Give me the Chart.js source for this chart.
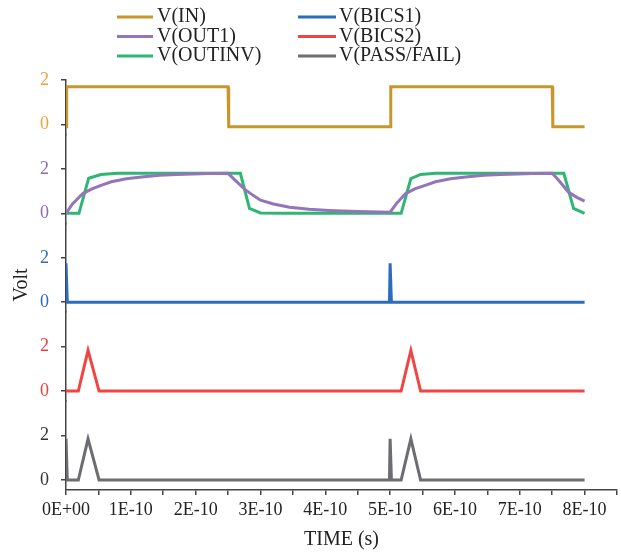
<!DOCTYPE html>
<html>
<head>
<meta charset="utf-8">
<script src="https://cdn.jsdelivr.net/npm/chart.js@4"></script>
<style>
  html, body { margin: 0; padding: 0; background: #fff; }
  #wrap { width: 621px; height: 552px; }
</style>
</head>
<body>
<div id="wrap"><canvas id="chart" width="621" height="552"></canvas></div>
<script>
// time values are in units of 1E-10 s
const inTime = [0, 0.01, 2.5, 2.51, 5.0, 5.01, 7.5, 7.51, 8.0];
const inVolt = [-0.1, 1.7, 1.7, -0.1, -0.1, 1.7, 1.7, -0.1, -0.1];

const out1Time = [0, 0.1, 0.26, 0.4, 0.54, 0.7, 0.93, 1.2, 1.45, 1.7, 1.96, 2.2, 2.5,
  2.6, 2.75, 2.88, 3.0, 3.2, 3.45, 3.75, 4.06, 4.5, 5.0,
  5.1, 5.24, 5.38, 5.54, 5.7, 5.93, 6.2, 6.45, 6.7, 6.96, 7.2, 7.5,
  7.6, 7.75, 7.88, 8.0];
const out1Volt = [0, 0.42, 0.89, 1.1, 1.26, 1.42, 1.56, 1.65, 1.71, 1.75, 1.77, 1.79, 1.8,
  1.52, 1.1, 0.82, 0.59, 0.42, 0.27, 0.18, 0.13, 0.08, 0.05,
  0.45, 0.89, 1.1, 1.26, 1.42, 1.56, 1.65, 1.71, 1.75, 1.77, 1.79, 1.8,
  1.49, 0.96, 0.72, 0.55];

const outInvTime = [0, 0.2, 0.35, 0.54, 0.8, 2.69, 2.83, 3.0, 3.3, 5.17, 5.32, 5.47, 5.7, 7.68, 7.83, 8.0];
const outInvVolt = [0, 0, 1.58, 1.75, 1.8, 1.8, 0.22, 0.02, 0, 0, 1.56, 1.75, 1.8, 1.8, 0.22, 0];

const bics1Time = [0, 0.02, 4.99, 5.0, 5.02, 8.0];
const bics1Volt = [1.75, 0, 0, 1.75, 0, 0];

const bics2Time = [0, 0.19, 0.34, 0.51, 5.17, 5.32, 5.47, 8.0];
const bics2Volt = [0, 0, 1.83, 0, 0, 1.83, 0, 0];

const passTime = [0, 0.02, 0.19, 0.34, 0.51, 4.99, 5.0, 5.02, 5.17, 5.32, 5.47, 8.0];
const passVolt = [1.85, 0, 0, 1.85, 0, 0, 1.85, 0, 0, 1.85, 0, 0];

// y tick marks per panel, and which of them carry a label
const panelTicks = [0, 1, 2, 3];
const topPanelTicks = [0, 1, 2];
const labeledVolts = [0, 2];

const FONT = "'Liberation Serif', 'DejaVu Serif', serif";

const pts = (ts, vs) => ts.map((t, i) => ({ x: t, y: vs[i] }));

const series = [
  { label: "V(IN)", data: pts(inTime, inVolt), color: "#c9962c", axis: "yIn" },
  { label: "V(OUT1)", data: pts(out1Time, out1Volt), color: "#9475b9", axis: "yOut" },
  { label: "V(OUTINV)", data: pts(outInvTime, outInvVolt), color: "#2fb574", axis: "yOut" },
  { label: "V(BICS1)", data: pts(bics1Time, bics1Volt), color: "#2b6cbe", axis: "yB1" },
  { label: "V(BICS2)", data: pts(bics2Time, bics2Volt), color: "#f04545", axis: "yB2" },
  { label: "V(PASS/FAIL)", data: pts(passTime, passVolt), color: "#6c6c71", axis: "yPF" }
];

const legendPlugin = {
  id: "twoColLegend",
  afterDraw(chart) {
    const { ctx } = chart;
    const cols = [{ x0: 117, x1: 153, tx: 157 }, { x0: 298, x1: 336, tx: 339 }];
    const rows = [17, 36.5, 56];
    ctx.save();
    ctx.font = `20px ${FONT}`;
    ctx.textBaseline = "middle";
    ctx.textAlign = "left";
    chart.data.datasets.forEach((ds, i) => {
      const c = cols[Math.floor(i / 3)];
      const y = rows[i % 3];
      ctx.strokeStyle = ds.borderColor;
      ctx.lineWidth = 3;
      ctx.beginPath();
      ctx.moveTo(c.x0, y);
      ctx.lineTo(c.x1, y);
      ctx.stroke();
      ctx.fillStyle = "#222";
      ctx.fillText(ds.label, c.tx, y);
    });
    // shared y title
    const { top, bottom } = chart.chartArea;
    ctx.translate(22, (top + bottom) / 2);
    ctx.rotate(-Math.PI / 2);
    ctx.textAlign = "center";
    ctx.fillText("Volt", 0, 0);
    ctx.restore();
  }
};

function yAxis(min, max, weight, color, tickValues) {
  return {
    type: "linear",
    position: "left",
    stack: "volt",
    stackWeight: weight,
    min, max,
    afterFit: s => { s.width = 66; },
    afterBuildTicks: s => { s.ticks = tickValues.map(value => ({ value })); },
    border: { display: true, color: "#444", width: 1.5 },
    grid: { drawOnChartArea: false, drawTicks: true, tickLength: 5, color: "#444", lineWidth: 1.5 },
    ticks: {
      padding: 12,
      color,
      font: { family: FONT, size: 18 },
      callback: v => labeledVolts.includes(v) ? String(v) : ""
    }
  };
}

new Chart(document.getElementById("chart"), {
  type: "line",
  data: {
    datasets: series.map(s => ({
      label: s.label,
      data: s.data,
      yAxisID: s.axis,
      borderColor: s.color,
      backgroundColor: s.color,
      borderWidth: 3,
      pointRadius: 0,
      tension: 0,
      fill: false
    }))
  },
  plugins: [legendPlugin],
  options: {
    responsive: false,
    animation: false,
    layout: { padding: { top: 80, right: 3, left: 0, bottom: 0 } },
    plugins: { legend: { display: false }, tooltip: { enabled: false } },
    scales: {
      x: {
        type: "linear",
        min: 0,
        max: 8.5,
        afterFit: s => { s.height = 62; },
        border: { display: true, color: "#444", width: 1.5 },
        grid: { drawOnChartArea: false, drawTicks: true, tickLength: 5, color: "#444", lineWidth: 1.5 },
        ticks: {
          stepSize: 0.5,
          includeBounds: false,
          padding: 4,
          maxRotation: 0,
          autoSkip: false,
          color: "#222",
          font: { family: FONT, size: 18 },
          callback: v => {
            if (!Number.isInteger(v) || v > 8) return "";
            return v === 0 ? "0E+00" : `${v}E-10`;
          }
        },
        title: {
          display: true,
          text: "TIME (s)",
          color: "#222",
          font: { family: FONT, size: 20 },
          padding: { top: 2, bottom: 0 }
        }
      },
      // defined bottom-to-top: later stacked axes sit higher
      yPF: yAxis(-0.45, 3.55, 4, "#333", panelTicks),
      yB2: yAxis(-0.45, 3.55, 4, "#f03c3c", panelTicks),
      yB1: yAxis(-0.45, 3.55, 4, "#2b6cbe", panelTicks),
      yOut: yAxis(-0.45, 3.55, 4, "#8f6ab6", panelTicks),
      yIn: yAxis(-0.45, 2.0, 2.45, "#e9a63e", topPanelTicks)
    }
  }
});
</script>
</body>
</html>
